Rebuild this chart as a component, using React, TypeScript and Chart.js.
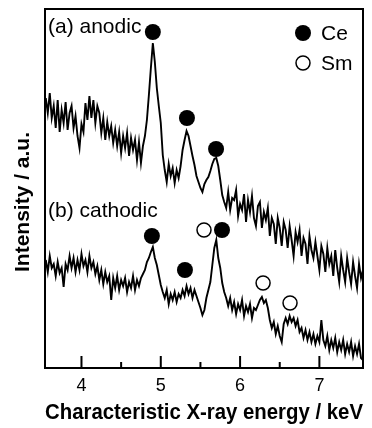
import React, { useEffect, useRef } from "react";
import { Chart, registerables } from "chart.js";

Chart.register(...registerables);

// Energy channels (keV)
const energies = [
  3.55, 3.575, 3.6, 3.625, 3.65, 3.675, 3.7, 3.725,
  3.75, 3.775, 3.8, 3.825, 3.85, 3.875, 3.9, 3.925,
  3.95, 3.975, 4, 4.025, 4.05, 4.075, 4.1, 4.125,
  4.15, 4.175, 4.2, 4.225, 4.25, 4.275, 4.3, 4.325,
  4.35, 4.375, 4.4, 4.425, 4.45, 4.475, 4.5, 4.525,
  4.55, 4.575, 4.6, 4.625, 4.65, 4.675, 4.7, 4.725,
  4.75, 4.775, 4.8, 4.825, 4.85, 4.875, 4.9, 4.925,
  4.95, 4.975, 5, 5.025, 5.05, 5.075, 5.1, 5.125,
  5.15, 5.175, 5.2, 5.225, 5.25, 5.275, 5.3, 5.325,
  5.35, 5.375, 5.4, 5.425, 5.45, 5.475, 5.5, 5.525,
  5.55, 5.575, 5.6, 5.625, 5.65, 5.675, 5.7, 5.725,
  5.75, 5.775, 5.8, 5.825, 5.85, 5.875, 5.9, 5.925,
  5.95, 5.975, 6, 6.025, 6.05, 6.075, 6.1, 6.125,
  6.15, 6.175, 6.2, 6.225, 6.25, 6.275, 6.3, 6.325,
  6.35, 6.375, 6.4, 6.425, 6.45, 6.475, 6.5, 6.525,
  6.55, 6.575, 6.6, 6.625, 6.65, 6.675, 6.7, 6.725,
  6.75, 6.775, 6.8, 6.825, 6.85, 6.875, 6.9, 6.925,
  6.95, 6.975, 7, 7.025, 7.05, 7.075, 7.1, 7.125,
  7.15, 7.175, 7.2, 7.225, 7.25, 7.275, 7.3, 7.325,
  7.35, 7.375, 7.4, 7.425, 7.45, 7.475, 7.5, 7.525,
  7.55,
];

// (a) anodic spectrum intensity (a.u.)
const anodic = [
  270, 255, 275, 250, 262, 240, 268, 236,
  258, 245, 266, 238, 255, 262, 240, 252,
  232, 220, 244, 236, 265, 248, 272, 250,
  268, 245, 262, 255, 235, 250, 228, 246,
  232, 242, 225, 238, 222, 236, 215, 232,
  220, 235, 212, 230, 218, 228, 208, 226,
  205, 222, 232, 248, 273, 300, 325, 306,
  280, 262, 245, 213, 198, 186, 204, 192,
  200, 185, 198, 190, 202, 218, 228, 237,
  232, 222, 212, 203, 192, 186, 180, 176,
  184, 188, 191, 197, 204, 209, 210, 202,
  188, 173, 166, 160, 176, 158, 170, 168,
  178, 152, 164, 158, 174, 146, 168, 156,
  172, 150, 142, 162, 166, 140, 156, 148,
  160, 132, 150, 144, 124, 150, 140, 122,
  146, 138, 120, 142, 128, 112, 136, 126,
  138, 112, 130, 124, 104, 132, 118, 110,
  126, 112, 98, 122, 114, 96, 120, 104,
  112, 92, 118, 100, 86, 112, 98, 86,
  110, 96, 84, 106, 92, 80, 104, 90,
  98,
];

// (b) cathodic spectrum intensity (a.u.)
const cathodic = [
  108, 96, 112, 100, 104, 92, 106, 95,
  100, 81, 104, 98, 112, 100, 110, 96,
  108, 98, 114, 102, 108, 96, 112, 100,
  106, 94, 102, 88, 98, 84, 96, 86,
  92, 68, 90, 80, 92, 78, 88, 82,
  90, 76, 86, 80, 92, 78, 88, 82,
  90, 94, 98, 106, 110, 116, 121, 110,
  103, 93, 83, 76, 70, 78, 64, 74,
  68, 76, 66, 74, 70, 78, 72, 82,
  74, 80, 70, 78, 72, 66, 60, 53,
  58, 70, 78, 86, 103, 120, 128, 110,
  100, 85, 76, 70, 62, 70, 58, 66,
  54, 64, 58, 68, 52, 62, 56, 64,
  50, 60, 58, 63, 68, 71, 65, 68,
  60, 48, 40, 46, 34, 42, 32, 26,
  44, 50, 44, 52, 46, 50, 42, 48,
  36, 40, 30, 38, 28, 36, 26, 34,
  24, 32, 26, 48, 28, 22, 32, 18,
  28, 20, 30, 16, 26, 18, 28, 14,
  24, 16, 26, 12, 22, 14, 24, 10,
  8,
];

// Peak markers
const ceMarkEnergy = [4.9, 5.33, 5.697, 4.888, 5.305, 5.772];
const ceMarkLevel = [336, 250, 219, 132, 98, 138];
const smMarkEnergy = [5.545, 6.29, 6.63];
const smMarkLevel = [138, 85, 65];

const xMajorTicks = [4, 5, 6, 7];
const xMinorTicks = [4.5, 5.5, 6.5];
const panelLabels = ["(a) anodic", "(b) cathodic"];
const legendLabels = ["Ce", "Sm"];
const xTitle = "Characteristic X-ray energy / keV";
const yTitle = "Intensity / a.u.";

const FONT = '"Liberation Sans", Arial, Helvetica, sans-serif';

const zip = (xs: number[], ys: number[]) => xs.map((x, i) => ({ x, y: ys[i] }));

export default function App() {
  const ref = useRef<HTMLCanvasElement>(null);

  useEffect(() => {
    if (!ref.current) return;

    const decor = {
      id: "decor",
      afterDatasetsDraw(chart: any) {
        const { ctx, chartArea: a, scales } = chart;
        const x = scales.x;
        ctx.save();
        ctx.strokeStyle = "#000";
        ctx.lineWidth = 2;
        ctx.strokeRect(a.left, a.top, a.right - a.left, a.bottom - a.top);
        ctx.beginPath();
        for (const v of xMajorTicks) {
          const p = x.getPixelForValue(v);
          ctx.moveTo(p, a.bottom);
          ctx.lineTo(p, a.bottom - 12);
        }
        for (const v of xMinorTicks) {
          const p = x.getPixelForValue(v);
          ctx.moveTo(p, a.bottom);
          ctx.lineTo(p, a.bottom - 6);
        }
        ctx.stroke();

        ctx.fillStyle = "#000";
        ctx.textBaseline = "middle";
        ctx.textAlign = "left";
        ctx.font = `21px ${FONT}`;
        ctx.fillText(panelLabels[0], a.left + 3, a.top + 18);
        ctx.fillText(panelLabels[1], a.left + 3, a.top + 202);

        // legend
        const lx = a.right - 60;
        ctx.beginPath();
        ctx.arc(lx, a.top + 24, 8, 0, Math.PI * 2);
        ctx.fill();
        ctx.beginPath();
        ctx.arc(lx, a.top + 54, 7, 0, Math.PI * 2);
        ctx.fillStyle = "#fff";
        ctx.fill();
        ctx.lineWidth = 1.5;
        ctx.stroke();
        ctx.fillStyle = "#000";
        ctx.fillText(legendLabels[0], a.right - 42, a.top + 25);
        ctx.fillText(legendLabels[1], a.right - 42, a.top + 55);

        // y title
        ctx.translate(23, a.top + 193);
        ctx.rotate(-Math.PI / 2);
        ctx.textAlign = "center";
        ctx.font = `bold 21px ${FONT}`;
        ctx.fillText(yTitle, 0, 0);
        ctx.restore();
      },
    };

    const chart = new Chart(ref.current, {
      type: "scatter",
      data: {
        datasets: [
          {
            label: "Ce",
            data: zip(ceMarkEnergy, ceMarkLevel),
            pointRadius: 8,
            pointBackgroundColor: "#000",
            pointBorderColor: "#000",
            pointBorderWidth: 0,
            showLine: false,
          },
          {
            label: "Sm",
            data: zip(smMarkEnergy, smMarkLevel),
            pointRadius: 7,
            pointBackgroundColor: "#fff",
            pointBorderColor: "#000",
            pointBorderWidth: 1.5,
            showLine: false,
          },
          {
            label: "anodic",
            data: zip(energies, anodic),
            showLine: true,
            pointRadius: 0,
            borderColor: "#000",
            borderWidth: 1.9,
            tension: 0,
          },
          {
            label: "cathodic",
            data: zip(energies, cathodic),
            showLine: true,
            pointRadius: 0,
            borderColor: "#000",
            borderWidth: 1.9,
            tension: 0,
          },
        ],
      },
      options: {
        animation: false,
        responsive: false,
        devicePixelRatio: 1,
        layout: { padding: { left: 45, right: 9, top: 9, bottom: 0 } },
        plugins: { legend: { display: false }, tooltip: { enabled: false } },
        scales: {
          x: {
            type: "linear",
            min: 3.54,
            max: 7.55,
            afterBuildTicks: (s: any) => {
              s.ticks = xMajorTicks.map((v) => ({ value: v }));
            },
            afterFit: (s: any) => {
              s.height = 60;
            },
            grid: { display: false, drawTicks: false },
            border: { display: false },
            ticks: {
              color: "#000",
              font: { family: FONT, size: 18 },
              padding: 7,
              maxRotation: 0,
            },
            title: {
              display: true,
              text: xTitle,
              color: "#000",
              font: { family: FONT, size: 22, weight: "bold" },
              padding: { top: 0, bottom: 2 },
            },
          },
          y: {
            display: false,
            min: 0,
            max: 359,
          },
        },
      },
      plugins: [decor],
    } as any);

    return () => chart.destroy();
  }, []);

  return (
    <div style={{ position: "fixed", left: 0, top: 0, width: 372, height: 428, background: "#fff" }}>
      <canvas ref={ref} width={372} height={428} style={{ display: "block" }} />
    </div>
  );
}
